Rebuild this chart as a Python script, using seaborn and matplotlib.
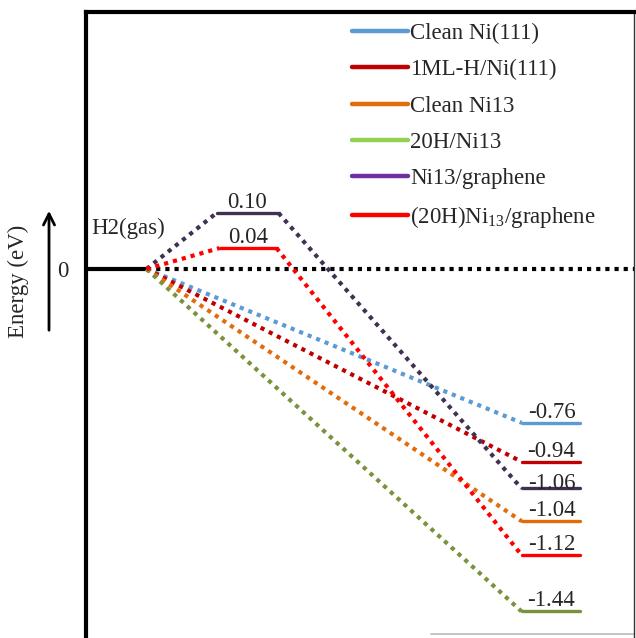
import matplotlib
matplotlib.use("Agg")
import matplotlib.pyplot as plt
from matplotlib.lines import Line2D
from matplotlib.patches import FancyArrowPatch
import seaborn as sns

sns.set_style("white")
plt.rcParams["font.family"] = ["Liberation Serif", "DejaVu Serif"]
plt.rcParams["mathtext.fontset"] = "custom"
plt.rcParams["mathtext.rm"] = "Liberation Serif"

# series (legend order)
series = ["Clean Ni(111)", "1ML-H/Ni(111)", "Clean Ni13", "20H/Ni13",
          "Ni13/graphene", "(20H)Ni$_{13}$/graphene"]
legend_colors = ["#5B9BD5", "#C00000", "#E36C0A", "#92D050", "#7030A0", "#FF0000"]
line_colors = ["#5B9BD5", "#C00000", "#E36C0A", "#77933C", "#403152", "#FF0000"]

# final state: labelled energies and where the level is drawn (schematic, eV)
final_labels = ["-0.76", "-0.94", "-1.04", "-1.44", "-1.06", "-1.12"]
final_drawn = [-0.75, -0.94, -1.23, -1.67, -1.07, -1.395]

# intermediate state only for the graphene supported clusters
mid_labels = [None, None, None, None, "0.10", "0.04"]
mid_drawn = [None, None, None, None, 0.273, 0.102]

# stage x ranges (layout)
h2_x = (0, 61)
mid_x = [(131, 193), (134, 191)]
fin_x = (436, 494)
label_dy = [0, 0, 0, 0, -4, 0]

FS = 16.5

fig = plt.figure(figsize=(6.36, 6.38), dpi=100)
ax = fig.add_axes([85.5 / 636, 0, (633.5 - 85.5) / 636, (638 - 11.5) / 638])
ax.set_xlim(0, 548)
ax.set_ylim(-1.80, 1.256)

dot = (0, (1, 1.2))

# zero reference
sns.lineplot(x=list(h2_x), y=[0, 0], ax=ax, color="black", lw=3, sort=False)
ax.plot([h2_x[1], 548], [0, 0], color="black", lw=3, ls=dot)

k = 0
for i, name in enumerate(series):
    c = line_colors[i]
    start = h2_x[1]
    y0 = 0
    if mid_drawn[i] is not None:
        mx = mid_x[k]
        k += 1
        ax.plot([start, mx[0]], [0, mid_drawn[i]], color=c, lw=3, ls=dot)
        sns.lineplot(x=list(mx), y=[mid_drawn[i]] * 2, ax=ax, color=c, lw=2.4, sort=False)
        ax.annotate(mid_labels[i], ((mx[0] + mx[1]) / 2, mid_drawn[i]),
                    xytext=(0, 0), textcoords="offset points",
                    ha="center", va="bottom", fontsize=FS)
        start = mx[1]
        y0 = mid_drawn[i]
    ax.plot([start, fin_x[0]], [y0, final_drawn[i]], color=c, lw=3, ls=dot)
    sns.lineplot(x=list(fin_x), y=[final_drawn[i]] * 2, ax=ax, color=c, lw=2.4, sort=False)
    ax.annotate(final_labels[i], ((fin_x[0] + fin_x[1]) / 2 + 1, final_drawn[i]),
                xytext=(0, label_dy[i]), textcoords="offset points",
                ha="center", va="bottom", fontsize=FS)

ax.set_xticks([])
ax.set_yticks([0])
ax.set_yticklabels(["0"], fontsize=FS)
ax.tick_params(axis="y", length=0, pad=12)
ax.set_xlabel("")
ax.set_ylabel("")

for s in ["left", "top"]:
    ax.spines[s].set_linewidth(3)
    ax.spines[s].set_color("black")
ax.spines["right"].set_linewidth(1)
ax.spines["right"].set_color("#333333")
ax.spines["bottom"].set_visible(False)
ax.plot([0.63, 1.0], [0.006, 0.006], transform=ax.transAxes, color="#bbbbbb", lw=1.2)

ax.text(6, 0.2, "H2(gas)", fontsize=FS, ha="left", va="center")

fig.text(18 / 636, 1 - 281 / 638, "Energy (eV)", rotation=90, fontsize=FS,
         ha="center", va="center")
fig.add_artist(FancyArrowPatch(
    (49 / 636, 1 - 333 / 638), (49 / 636, 1 - 208 / 638),
    transform=fig.transFigure, arrowstyle="->", mutation_scale=20, lw=2, color="black"))

handles = [Line2D([0], [0], color=c, lw=3.2) for c in legend_colors]
fig.legend(handles, series, loc="upper left", bbox_to_anchor=(352 / 636, 1 - 23 / 638),
           frameon=False, fontsize=FS, handlelength=2.45, handletextpad=0.08,
           labelspacing=0.66, borderpad=0, borderaxespad=0)

fig.savefig("out.png", dpi=100)
